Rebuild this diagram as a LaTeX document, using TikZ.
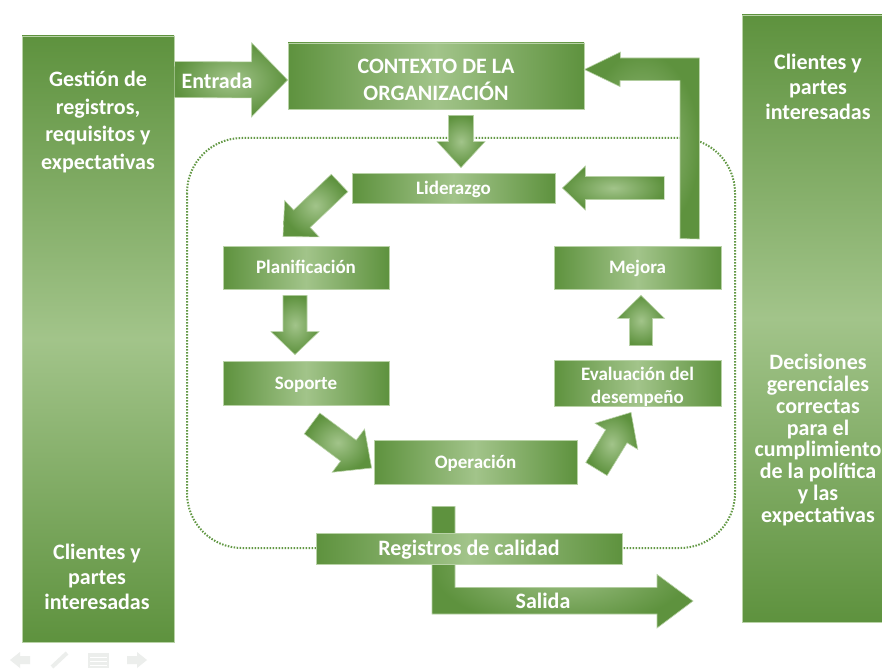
\documentclass[tikz,border=0pt]{standalone}
\usepackage{fontspec}
\setmainfont{Carlito}
\usetikzlibrary{calc}

\definecolor{gdark}{RGB}{94,146,62}
\definecolor{glight}{RGB}{162,196,138}
\definecolor{gedge}{RGB}{184,210,166}
\definecolor{gdot}{RGB}{98,152,68}
\definecolor{navgray}{RGB}{236,238,236}

\tikzset{
  stagebox/.style={rectangle, inner sep=0pt, draw=gedge, line width=0.8pt,
    left color=gdark, right color=gdark, middle color=glight,
    text=white, font=\bfseries\fontsize{19}{23}\selectfont, align=center},
  oneline/.style={text height=14pt, text depth=2pt},
  bigbox/.style={stagebox, font=\bfseries\fontsize{22}{27}\selectfont},
  sidebox/.style={rectangle, inner sep=0pt, draw=gedge, line width=0.8pt,
    top color=gdark, bottom color=gdark, middle color=glight},
  sidetext/.style={text=white, align=center, inner sep=0pt},
  blockfill/.style={inner color=glight, outer color=gdark, draw=gedge, line width=0.6pt},
  loopframe/.style={draw=gdot, line width=2pt, dash pattern=on 1.5pt off 1.5pt, rounded corners=55pt},
  navicon/.style={fill=navgray, draw=none},
}

% straight block arrow: #1 tail, #2 tip, #3 half shaft width,
% #4 half head width, #5 head length
\newcommand\blockarrow[5]{%
  \path ($(#2)!#5!(#1)$) coordinate (ba-base);
  \path[blockfill] ($(#1)!#3!90:(#2)$) -- ($(ba-base)!#3!90:(#2)$)
    -- ($(ba-base)!#4!90:(#2)$) -- (#2) -- ($(ba-base)!#4!-90:(#2)$)
    -- ($(ba-base)!#3!-90:(#2)$) -- ($(#1)!#3!-90:(#2)$) -- cycle;
}

\begin{document}
\begin{tikzpicture}[x=1pt,y=-1pt]
\clip (0,0) rectangle (882,671);
\fill[white] (0,0) rectangle (882,671);

% side panels
\node[sidebox, minimum width=152pt, minimum height=606pt] (lbox) at (98,339) {};
\node[sidebox, minimum width=153pt, minimum height=607pt] (rbox) at (818.5,318.5) {};
\node[sidetext, font=\bfseries\fontsize{22}{27.7}\selectfont] (ltop) at (98,122)
  {Gestión de\\registros,\\requisitos y\\expectativas};
\node[sidetext, font=\bfseries\fontsize{22}{25}\selectfont] (lbot) at (97,577)
  {Clientes y\\partes\\interesadas};
\node[sidetext, font=\bfseries\fontsize{22}{25}\selectfont] (rtop) at (818,87)
  {Clientes y\\partes\\interesadas};
\node[sidetext, font=\bfseries\fontsize{22}{21.9}\selectfont] (rbot) at (818,440)
  {Decisiones\\gerenciales\\correctas\\para el\\cumplimiento\\de la política\\y las\\expectativas};

% dotted loop around the management cycle
\draw[loopframe] (187,138) rectangle (735,548);

% central stages
\node[bigbox, minimum width=296pt, minimum height=66pt] (ctx) at (436,76)
  {\raisebox{0pt}[22pt][0pt]{CONTEXTO DE LA}\\ORGANIZACIÓN};
\node[stagebox, oneline, minimum width=203pt, minimum height=30pt] (lid) at (453.5,188) {Liderazgo};
\node[stagebox, oneline, minimum width=166pt, minimum height=43pt] (plan) at (306,267.5) {Planificación};
\node[stagebox, oneline, minimum width=166pt, minimum height=44pt] (sop) at (306,383) {Soporte};
\node[stagebox, oneline, minimum width=203pt, minimum height=44pt] (ope) at (475.5,462) {Operación};
\node[stagebox, oneline, minimum width=167pt, minimum height=43pt] (mej) at (637.5,267.5) {Mejora};
\node[stagebox, minimum width=167pt, minimum height=44pt] (eva) at (637.5,383)
  {\raisebox{0pt}[20pt][0pt]{Evaluación del}\\desempeño};

% entry arrow
\coordinate (ent-a) at ($(lbox.north east)+(0,44)$);
\coordinate (ent-b) at ($(ctx.west)+(0,4)$);
\blockarrow{ent-a}{ent-b}{18pt}{37pt}{36pt}
\node[text=white, font=\bfseries\fontsize{22}{26}\selectfont] (entlbl) at (217,81) {Entrada};

% context -> leadership
\coordinate (c1a) at ($(ctx.south)+(25,6)$);
\coordinate (c1b) at ($(lid.north)+(7.5,-5)$);
\blockarrow{c1a}{c1b}{12.5pt}{24pt}{26pt}

% leadership -> planning
\coordinate (c2a) at ($(lid.west)+(-12,-5)$);
\coordinate (c2b) at ($(plan.north)+(-23,-9)$);
\blockarrow{c2a}{c2b}{12pt}{25pt}{26pt}

% planning -> support
\coordinate (c3a) at ($(plan.south)+(-11,6)$);
\coordinate (c3b) at ($(sop.north)+(-11,-6)$);
\blockarrow{c3a}{c3b}{12pt}{24pt}{23pt}

% support -> operation
\coordinate (c4a) at ($(sop.south)+(6,18)$);
\coordinate (c4b) at ($(ope.west)+(-2,6)$);
\blockarrow{c4a}{c4b}{13pt}{27pt}{29pt}

% operation -> evaluation
\coordinate (c5a) at ($(ope.east)+(19,7)$);
\coordinate (c5b) at ($(eva.south)+(-6.5,6)$);
\blockarrow{c5a}{c5b}{12.5pt}{25pt}{28pt}

% evaluation -> improvement
\coordinate (c6a) at ($(eva.north)+(3.5,-14)$);
\coordinate (c6b) at ($(mej.south)+(3.5,6)$);
\blockarrow{c6a}{c6b}{11.5pt}{23.5pt}{23pt}

% feedback into leadership
\coordinate (c7a) at ($(lid.east)+(109,0)$);
\coordinate (c7b) at ($(lid.east)+(7,0)$);
\blockarrow{c7a}{c7b}{11.5pt}{22pt}{23pt}

% improvement -> context (bent return)
\coordinate (c8a) at ($(mej.north)+(52,-7)$);
\coordinate (c8b) at ($(ctx.east)+(0,-6.5)$);
\path[blockfill] (c8a) ++(-9.5,0) -- ++(0,-158) -- ++(-60,0) -- ++(0,6)
  -- (c8b) -- ++(36,-17.5) -- ++(0,6) -- ++(79,0) -- ++(0,181) -- cycle;

% output branch
\coordinate (c9a) at ($(ope.south)+(-32,22)$);
\coordinate (salida-tip) at (693,601);
\path[blockfill] (c9a) ++(-11.5,0) -- ++(23,0) -- ++(0,81) -- ++(202,0) -- ++(0,-13)
  -- (salida-tip) -- ++(-36,27) -- ++(0,-14) -- ++(-225,0) -- cycle;
\node[text=white, font=\bfseries\fontsize{22}{26}\selectfont] (sallbl) at (543,601) {Salida};

% quality records
\node[stagebox, font=\bfseries\fontsize{22}{26}\selectfont, text height=15pt, text depth=2pt,
  minimum width=306pt, minimum height=31pt] (reg) at (469,548.5) {Registros de calidad};

% slide navigation icons
\fill[navicon] (10,660) -- (20,652) -- (20,656) -- (30,656) -- (30,664) -- (20,664) -- (20,668) -- cycle;
\draw[navgray, line width=4pt] (52,667) -- (67,653);
\fill[navicon] (88,653) rectangle (109,668);
\draw[white, line width=1pt] (90,657) -- (107,657) (90,661) -- (107,661) (90,665) -- (107,665);
\fill[navicon] (147,660) -- (137,652) -- (137,656) -- (127,656) -- (127,664) -- (137,664) -- (137,668) -- cycle;
\end{tikzpicture}
\end{document}
